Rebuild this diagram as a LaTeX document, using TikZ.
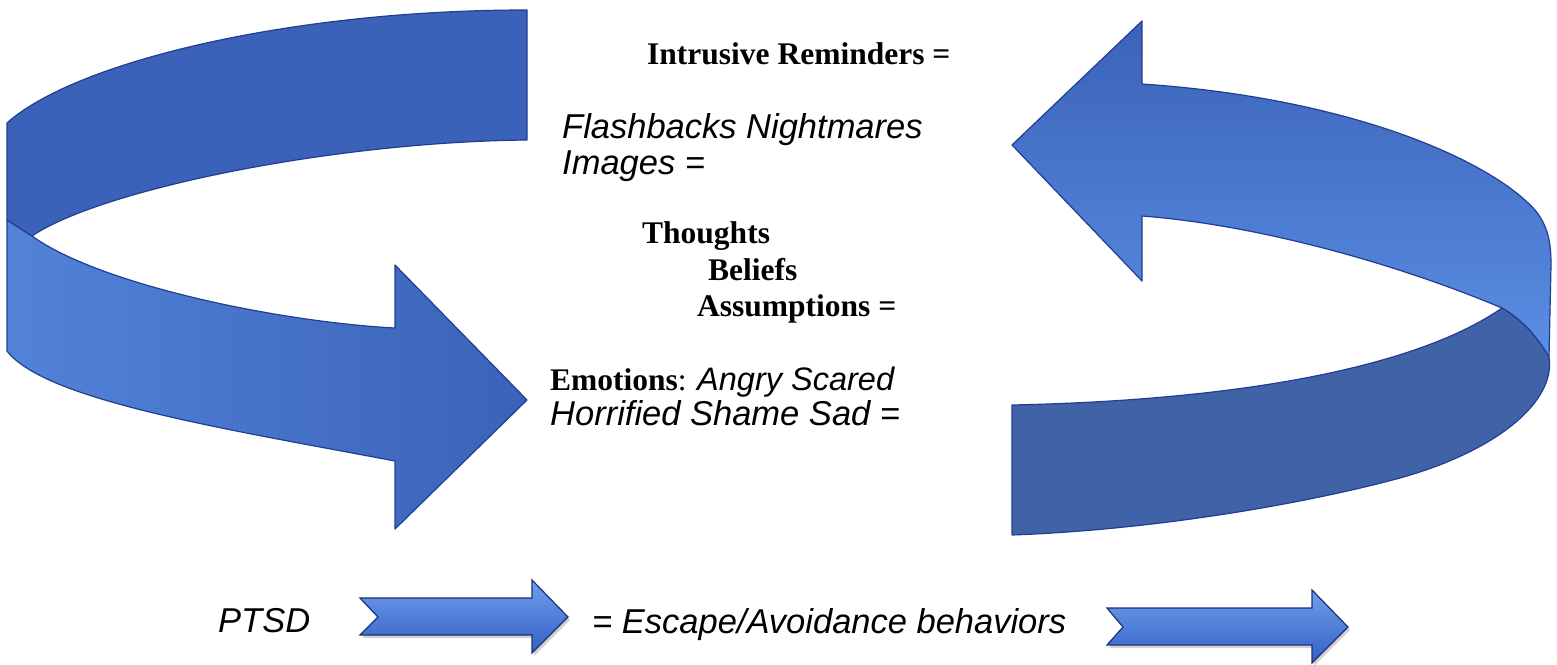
\documentclass[tikz,border=0pt]{standalone}
\usepackage{fontspec}
\setmainfont{Liberation Serif}
\setsansfont{Liberation Sans}
\usetikzlibrary{shadows}
\definecolor{bandDark}{RGB}{58,98,184}
\definecolor{bandLight}{RGB}{90,142,228}
\definecolor{bandGray}{RGB}{64,98,166}
\definecolor{bandEdge}{RGB}{34,62,148}
\definecolor{chevTop}{RGB}{112,158,236}
\definecolor{chevBot}{RGB}{52,96,196}
\tikzset{
  band/.style={draw=bandEdge, line width=1.2pt, line join=round},
  chev/.style={draw=bandEdge!80!black, line width=1.2pt, top color=chevTop, bottom color=chevBot,
    drop shadow={opacity=0.35, shadow xshift=2pt, shadow yshift=-3pt}},
  sanstxt/.style={anchor=base west, inner sep=0pt, font=\sffamily\itshape\fontsize{34.5}{34.5}\selectfont},
  seriftxt/.style={anchor=base west, inner sep=0pt, font=\bfseries\fontsize{31.5}{31.5}\selectfont},
}
\begin{document}
\begin{tikzpicture}[x=1pt, y=-1pt]
\useasboundingbox (0,0) rectangle (1557,664);
\fill[white] (0,0) rectangle (1557,664);

% ---- left curved arrow ----
% upper band (back)
\path[band, fill=bandDark]
  (527,10) .. controls (290,10) and (75,62) .. (7,123)
  -- (7,220) .. controls (16,226) and (24,231) .. (32,236)
  .. controls (100,190) and (330,142) .. (527,140) -- cycle;
% lower band with head
\path[band, left color=bandLight!75!bandDark, right color=bandDark]
  (7,220) .. controls (16,226) and (24,231) .. (32,236)
  .. controls (100,285) and (280,322) .. (395,328)
  -- (395,265) -- (527,400) -- (395,529) -- (395,461)
  .. controls (220,428) and (45,400) .. (7,351) -- cycle;

% ---- right curved arrow ----
% upper band with head
\path[band, top color=bandDark, bottom color=bandLight]
  (1012,145) -- (1142,21) -- (1142,84)
  .. controls (1350,98) and (1490,160) .. (1535,210)
  .. controls (1549,227) and (1551,245) .. (1551,265)
  -- (1549,357) .. controls (1535,334) and (1522,320) .. (1502,308)
  .. controls (1400,265) and (1260,225) .. (1142,216)
  -- (1142,281) -- cycle;
% lower band (front)
\path[band, fill=bandGray]
  (1502,308) .. controls (1522,320) and (1535,334) .. (1549,357)
  .. controls (1556,400) and (1500,450) .. (1400,478)
  .. controls (1300,505) and (1150,530) .. (1012,535)
  -- (1012,405)
  .. controls (1250,400) and (1420,365) .. (1502,308) -- cycle;

% ---- chevron arrows ----
\path[chev] (360,598) -- (532,598) -- (532,580) -- (568,617) -- (532,653)
  -- (532,635) -- (360,635) -- (378,617) -- cycle;
\path[chev] (1107,608) -- (1312,608) -- (1312,590) -- (1348,627) -- (1312,663)
  -- (1312,645) -- (1107,645) -- (1123,627) -- cycle;

% ---- texts ----
\node[seriftxt] (intr) at (647,64) {Intrusive Reminders =};
\node[sanstxt] (flash) at (562,138) {Flashbacks Nightmares};
\node[sanstxt] (imgs) at (562,174) {Images =};
\node[seriftxt] (thou) at (642,243) {Thoughts};
\node[seriftxt] (beli) at (708,280) {Beliefs};
\node[seriftxt] (assu) at (697,316) {Assumptions =};
\node[anchor=base west, inner sep=0pt] (emo) at (550,390)
  {{\bfseries\fontsize{31.5}{31.5}\selectfont Emotions}{\fontsize{31.5}{31.5}\selectfont: }{\sffamily\itshape\fontsize{32.5}{32.5}\selectfont Angry Scared}};
\node[sanstxt] (horr) at (550,425) {Horrified Shame Sad =};
\node[sanstxt] (ptsd) at (218,632) {PTSD};
\node[sanstxt] (esc) at (592,633) {= Escape/Avoidance behaviors};
\end{tikzpicture}
\end{document}
